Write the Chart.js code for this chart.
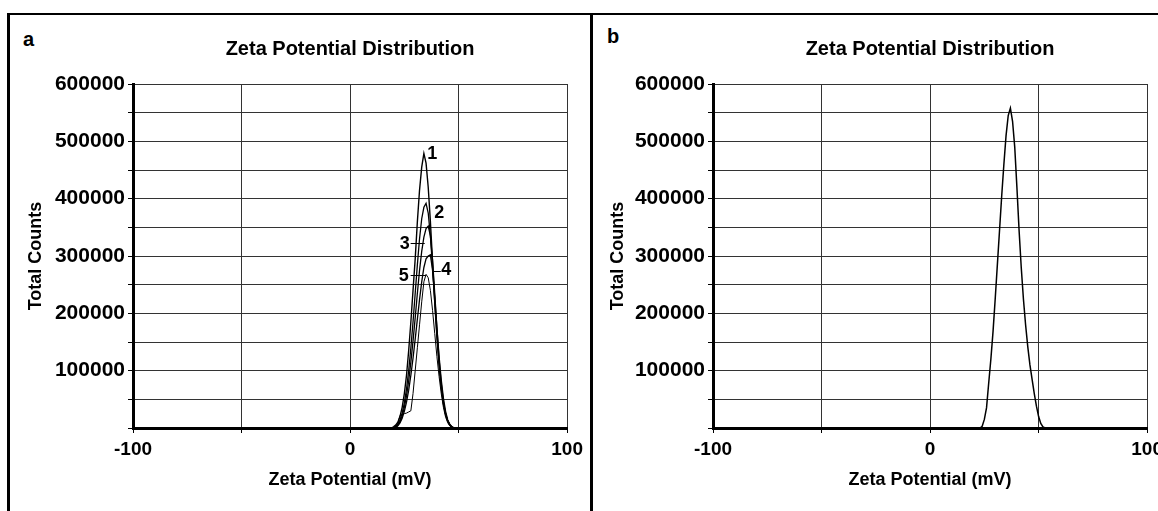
<!DOCTYPE html>
<html>
<head>
<meta charset="utf-8">
<script src="https://cdn.jsdelivr.net/npm/chart.js@4.4.1/dist/chart.umd.min.js"></script>
<style>
  body { margin: 0; background: #fff; width: 1158px; height: 511px; overflow: hidden; position: relative; font-family: "Liberation Sans", Arial, sans-serif; }
  .frame { position: absolute; left: 7px; top: 13px; width: 1170px; height: 520px; border-top: 2px solid #000; border-left: 3px solid #000; }
  .divider { position: absolute; left: 590px; top: 13px; width: 3px; height: 520px; background: #000; }
  .letter { position: absolute; font-weight: bold; font-size: 20px; line-height: 1; color: #000; }
  .box { position: absolute; top: 16px; height: 495px; }
</style>
</head>
<body>
<div class="frame"></div>
<div class="divider"></div>
<div class="letter" style="left:23px; top:29px;">a</div>
<div class="letter" style="left:607px; top:26px;">b</div>
<div class="box" style="left:10px; width:578px;"><canvas id="chartA"></canvas></div>
<div class="box" style="left:596px; width:572px;"><canvas id="chartB"></canvas></div>

<script>
// Panel a: five runs (mV vs total counts)
const zetaA = [19, 20, 21, 22, 23, 24, 25, 26, 27, 28, 29, 30, 31, 32, 33, 34,
               35, 36, 37, 38, 39, 40, 41, 42, 43, 44, 45, 46, 47, 48, 49];
const run1 = [0, 2000, 5000, 10000, 20000, 36000, 60000, 92000, 135000, 185000, 240000, 295000, 360000, 415000, 455000, 479000,
              462000, 420000, 360000, 290000, 220000, 160000, 110000, 70000, 42000, 24000, 12000, 5000, 2000, 0, 0];
const run2 = [0, 0, 3000, 7000, 14000, 26000, 44000, 68000, 100000, 140000, 185000, 235000, 285000, 330000, 365000, 385000,
              392000, 375000, 335000, 280000, 220000, 162000, 112000, 72000, 43000, 24000, 12000, 5000, 1000, 0, 0];
const run3 = [0, 0, 2000, 5000, 11000, 21000, 36000, 56000, 82000, 115000, 152000, 192000, 235000, 275000, 308000, 333000,
              348000, 352000, 335000, 292000, 235000, 175000, 120000, 78000, 46000, 25000, 12000, 5000, 1000, 0, 0];
const run4 = [0, 0, 0, 4000, 9000, 17000, 29000, 45000, 66000, 92000, 122000, 155000, 190000, 224000, 255000, 280000,
              295000, 300000, 302000, 275000, 228000, 175000, 125000, 84000, 52000, 29000, 14000, 6000, 2000, 0, 0];
const run5 = [0, 0, 0, 8000, 22000, 24000, 25000, 26000, 28000, 30000, 60000, 100000, 140000, 180000, 220000, 255000,
              268000, 262000, 240000, 205000, 165000, 125000, 90000, 60000, 36000, 19000, 9000, 3000, 0, 0, 0];

// Panel b: single distribution
const zetaB = [22, 23, 24, 25, 26, 27, 28, 29, 30, 31, 32, 33, 34, 35, 36, 37, 38,
               39, 40, 41, 42, 43, 44, 45, 46, 47, 48, 49, 50, 51, 52, 53, 54];
const countsB = [0, 0, 3000, 15000, 35000, 78000, 120000, 168000, 225000, 285000, 345000, 405000, 460000, 510000, 545000, 558000, 535000,
                 490000, 420000, 345000, 280000, 225000, 180000, 142000, 110000, 85000, 60000, 38000, 20000, 8000, 2000, 0, 0];

// Run labels in panel a (data units) and their leader lines
const runLabels = ['1', '2', '3', '4', '5'];
const labelX = [37.9, 41.1, 25.2, 44.3, 24.7];
const labelY = [478000, 375000, 321000, 274700, 265000];
const leaderFrom = [null, null, 27.9, 38.0, 27.9];
const leaderTo = [null, null, 34.4, 41.8, 34.9];
const leaderY = [null, null, 322000, 274000, 267000];

const xMin = -100, xMax = 100, xStep = 50;
const yMin = 0, yMax = 600000, yStep = 50000;

const FONT = '"Liberation Sans", Arial, sans-serif';

function pts(xs, ys) {
    return xs.map((x, i) => ({ x: x, y: ys[i] }));
}

// Draw the run numbers next to the peaks
const runLabelPlugin = {
    id: 'runLabels',
    afterDatasetsDraw(chart) {
        if (chart.canvas.id !== 'chartA') return;
        const ctx = chart.ctx;
        const xs = chart.scales.x, ys = chart.scales.y;
        ctx.save();
        ctx.fillStyle = '#000';
        ctx.strokeStyle = '#000';
        ctx.lineWidth = 1;
        ctx.font = 'bold 18px ' + FONT;
        ctx.textAlign = 'center';
        ctx.textBaseline = 'middle';
        runLabels.forEach((t, i) => {
            ctx.fillText(t, xs.getPixelForValue(labelX[i]), ys.getPixelForValue(labelY[i]));
            if (leaderFrom[i] !== null) {
                const py = Math.round(ys.getPixelForValue(leaderY[i])) + 0.5;
                ctx.beginPath();
                ctx.moveTo(xs.getPixelForValue(leaderFrom[i]), py);
                ctx.lineTo(xs.getPixelForValue(leaderTo[i]), py);
                ctx.stroke();
            }
        });
        ctx.restore();
    }
};

function makeOptions(yWidth, yTitlePad) {
    return {
        responsive: true,
        maintainAspectRatio: false,
        animation: false,
        layout: { padding: 0 },
        plugins: {
            legend: { display: false },
            tooltip: { enabled: false },
            title: {
                display: true,
                text: 'Zeta Potential Distribution',
                fullSize: false,
                color: '#000',
                font: { family: FONT, size: 20, weight: 'bold' },
                padding: { top: 21, bottom: 23 }
            }
        },
        scales: {
            x: {
                type: 'linear',
                min: xMin,
                max: xMax,
                ticks: {
                    stepSize: xStep,
                    autoSkip: false,
                    maxRotation: 0,
                    padding: 5,
                    color: '#000',
                    font: { family: FONT, size: 19, weight: 'bold' },
                    callback: v => (v % 100 === 0 ? v : '')
                },
                grid: { color: '#333', lineWidth: 1, tickLength: 5, tickColor: '#000' },
                border: { color: '#000', width: 3 },
                title: {
                    display: true,
                    text: 'Zeta Potential (mV)',
                    color: '#000',
                    font: { family: FONT, size: 18, weight: 'bold' },
                    padding: { top: 0, bottom: 20 }
                },
                afterFit: s => { s.height = 83; }
            },
            y: {
                min: yMin,
                max: yMax,
                ticks: {
                    stepSize: yStep,
                    autoSkip: false,
                    padding: 3,
                    color: '#000',
                    font: { family: FONT, size: 21, weight: 'bold' },
                    callback: v => (v !== 0 && v % 100000 === 0 ? v : '')
                },
                grid: { color: '#333', lineWidth: 1, tickLength: 5, tickColor: '#000' },
                border: { color: '#000', width: 3 },
                title: {
                    display: true,
                    text: 'Total Counts',
                    color: '#000',
                    font: { family: FONT, size: 18, weight: 'bold' },
                    padding: { top: yTitlePad, bottom: 0 }
                },
                afterFit: s => { s.width = yWidth; }
            }
        }
    };
}

function lineSet(xs, ys, w) {
    return {
        data: pts(xs, ys),
        borderColor: '#000',
        borderWidth: w,
        pointRadius: 0,
        tension: 0,
        fill: false
    };
}

new Chart(document.getElementById('chartA'), {
    type: 'line',
    data: {
        datasets: [
            lineSet(zetaA, run1, 1.4),
            lineSet(zetaA, run2, 1.3),
            lineSet(zetaA, run3, 1.3),
            lineSet(zetaA, run4, 1.3),
            lineSet(zetaA, run5, 1)
        ]
    },
    options: makeOptions(123, 15),
    plugins: [runLabelPlugin]
});

new Chart(document.getElementById('chartB'), {
    type: 'line',
    data: {
        datasets: [lineSet(zetaB, countsB, 1.5)]
    },
    options: makeOptions(117, 11)
});
</script>
</body>
</html>
